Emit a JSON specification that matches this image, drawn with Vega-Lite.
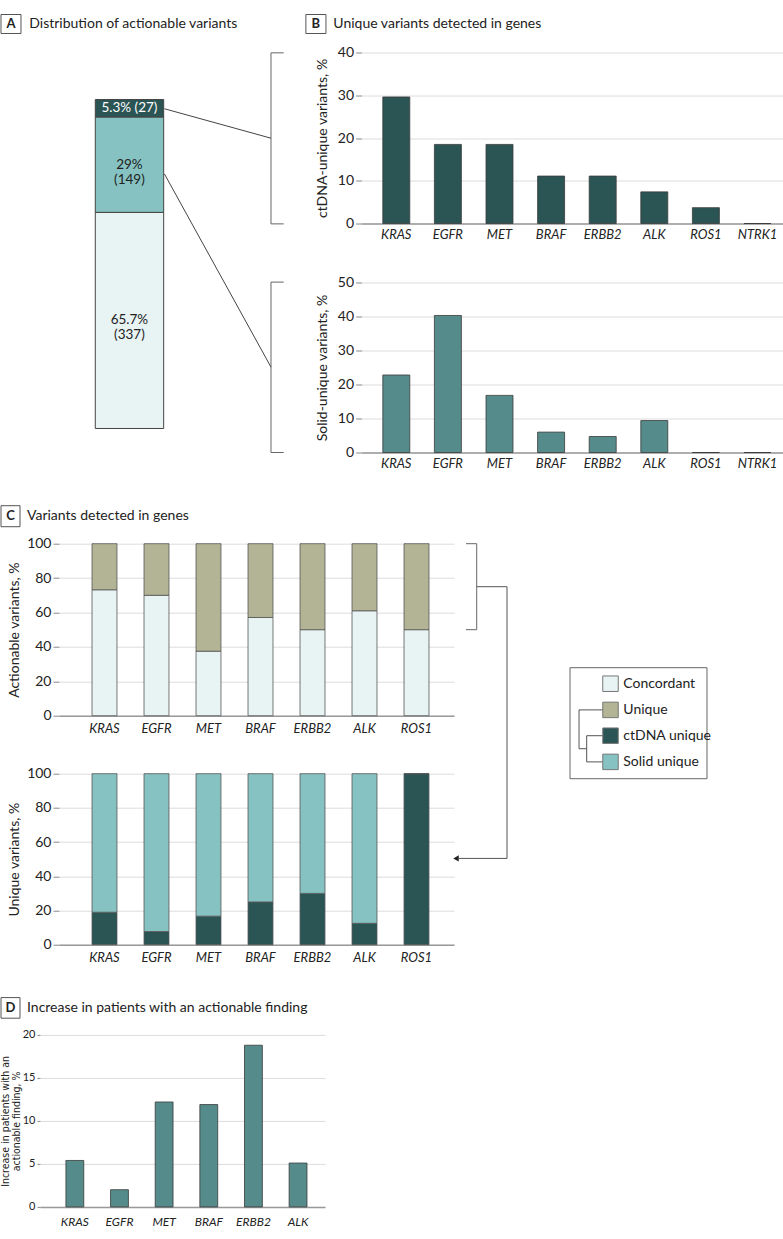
{
  "$schema": "https://vega.github.io/schema/vega-lite/v6.json",
  "padding": {"left": 0, "top": 13.5, "right": 0, "bottom": 0},
  "background": "white",
  "config": {
    "view": {"stroke": null},
    "font": "Lato, sans-serif",
    "text": {"font": "Lato, sans-serif", "color": "#222"},
    "axis": {"labelFont": "Lato, sans-serif", "titleFont": "Lato, sans-serif", "labelColor": "#222", "titleColor": "#222", "titleFontWeight": "normal", "gridColor": "#dcdcdc", "gridWidth": 1, "tickColor": "#888", "domainColor": "#999"},
    "axisY": {"domain": false, "tickSize": 6, "labelFontSize": 14, "titleFontSize": 14, "titlePadding": 8, "grid": true},
    "axisX": {"ticks": false, "grid": false, "labelAngle": 0, "labelFontStyle": "italic", "labelFontSize": 13, "labelPadding": 6, "domainWidth": 1.5}
  },
  "datasets": {
    "overall": [
      {"segment": "Concordant", "pct": 65.7, "n": 337, "lo": 0, "hi": 65.7, "mid": 32.85, "label": "65.7%\n(337)"},
      {"segment": "Solid unique", "pct": 29.0, "n": 149, "lo": 65.7, "hi": 94.7, "mid": 80.2, "label": "29%\n(149)"},
      {"segment": "ctDNA unique", "pct": 5.3, "n": 27, "lo": 94.7, "hi": 100, "mid": 97.35, "label": "5.3% (27)"}
    ],
    "unique": [
      {"gene": "KRAS", "ctdna": 29.6, "solid": 22.8},
      {"gene": "EGFR", "ctdna": 18.5, "solid": 40.3},
      {"gene": "MET", "ctdna": 18.5, "solid": 16.8},
      {"gene": "BRAF", "ctdna": 11.1, "solid": 6.0},
      {"gene": "ERBB2", "ctdna": 11.1, "solid": 4.7},
      {"gene": "ALK", "ctdna": 7.4, "solid": 9.4},
      {"gene": "ROS1", "ctdna": 3.7, "solid": 0},
      {"gene": "NTRK1", "ctdna": 0, "solid": 0}
    ],
    "actionable": [
      {"gene": "KRAS", "category": "Concordant", "pct": 73.2},
      {"gene": "KRAS", "category": "Unique", "pct": 26.8},
      {"gene": "EGFR", "category": "Concordant", "pct": 70.0},
      {"gene": "EGFR", "category": "Unique", "pct": 30.0},
      {"gene": "MET", "category": "Concordant", "pct": 37.5},
      {"gene": "MET", "category": "Unique", "pct": 62.5},
      {"gene": "BRAF", "category": "Concordant", "pct": 57.1},
      {"gene": "BRAF", "category": "Unique", "pct": 42.9},
      {"gene": "ERBB2", "category": "Concordant", "pct": 50.0},
      {"gene": "ERBB2", "category": "Unique", "pct": 50.0},
      {"gene": "ALK", "category": "Concordant", "pct": 61.0},
      {"gene": "ALK", "category": "Unique", "pct": 39.0},
      {"gene": "ROS1", "category": "Concordant", "pct": 50.0},
      {"gene": "ROS1", "category": "Unique", "pct": 50.0}
    ],
    "uniqueShare": [
      {"gene": "KRAS", "category": "ctDNA unique", "pct": 19.0},
      {"gene": "KRAS", "category": "Solid unique", "pct": 81.0},
      {"gene": "EGFR", "category": "ctDNA unique", "pct": 7.7},
      {"gene": "EGFR", "category": "Solid unique", "pct": 92.3},
      {"gene": "MET", "category": "ctDNA unique", "pct": 16.7},
      {"gene": "MET", "category": "Solid unique", "pct": 83.3},
      {"gene": "BRAF", "category": "ctDNA unique", "pct": 25.0},
      {"gene": "BRAF", "category": "Solid unique", "pct": 75.0},
      {"gene": "ERBB2", "category": "ctDNA unique", "pct": 30.0},
      {"gene": "ERBB2", "category": "Solid unique", "pct": 70.0},
      {"gene": "ALK", "category": "ctDNA unique", "pct": 12.5},
      {"gene": "ALK", "category": "Solid unique", "pct": 87.5},
      {"gene": "ROS1", "category": "ctDNA unique", "pct": 100.0},
      {"gene": "ROS1", "category": "Solid unique", "pct": 0}
    ],
    "increase": [
      {"gene": "KRAS", "pct": 5.4},
      {"gene": "EGFR", "pct": 2.0},
      {"gene": "MET", "pct": 12.2},
      {"gene": "BRAF", "pct": 11.9},
      {"gene": "ERBB2", "pct": 18.8},
      {"gene": "ALK", "pct": 5.1}
    ]
  },
  "spacing": 34.2,
  "vconcat": [
    {
      "spacing": 19.6,
      "hconcat": [
        {
          "width": 243,
          "height": 400,
          "data": {"values": [{}]},
          "layer": [
            {"data": {"name": "overall"}, "mark": {"type": "rect", "stroke": "#444", "strokeWidth": 1},
             "encoding": {
               "x": {"datum": 22.75, "type": "quantitative", "scale": {"domain": [0, 100], "nice": false, "zero": false}, "axis": null},
               "x2": {"datum": 50.9},
               "y": {"field": "lo", "type": "quantitative", "scale": {"domain": [-7.3, 114.3], "nice": false, "zero": false}, "axis": null},
               "y2": {"field": "hi"},
               "color": {"field": "segment", "type": "nominal", "scale": {"domain": ["Concordant", "Unique", "ctDNA unique", "Solid unique"], "range": ["#e8f3f4", "#b3b395", "#2b5454", "#85c2c1"]}, "legend": null}
             }},
            {"data": {"name": "overall"}, "mark": {"type": "text", "fontSize": 13.5, "lineBreak": "\n", "lineHeight": 15, "baseline": "middle", "align": "center"},
             "encoding": {
               "x": {"datum": 36.8, "type": "quantitative"},
               "y": {"field": "mid", "type": "quantitative"},
               "text": {"field": "label"},
               "color": {"condition": {"test": "datum.segment === 'ctDNA unique'", "value": "white"}, "value": "#222"}
             }},
            {"mark": {"type": "rule", "color": "#666", "strokeWidth": 1}, "encoding": {"x": {"datum": 95.06, "type": "quantitative"}, "y": {"datum": 62.2, "type": "quantitative"}, "y2": {"datum": 114.2}}},
            {"mark": {"type": "rule", "color": "#666", "strokeWidth": 1}, "encoding": {"x": {"datum": 95.06, "type": "quantitative"}, "x2": {"datum": 100.3}, "y": {"datum": 114.2, "type": "quantitative"}}},
            {"mark": {"type": "rule", "color": "#666", "strokeWidth": 1}, "encoding": {"x": {"datum": 95.06, "type": "quantitative"}, "x2": {"datum": 100.3}, "y": {"datum": 62.2, "type": "quantitative"}}},
            {"mark": {"type": "rule", "color": "#666", "strokeWidth": 1}, "encoding": {"x": {"datum": 95.06, "type": "quantitative"}, "y": {"datum": -7.3, "type": "quantitative"}, "y2": {"datum": 44.5}}},
            {"mark": {"type": "rule", "color": "#666", "strokeWidth": 1}, "encoding": {"x": {"datum": 95.06, "type": "quantitative"}, "x2": {"datum": 100.3}, "y": {"datum": 44.5, "type": "quantitative"}}},
            {"mark": {"type": "rule", "color": "#666", "strokeWidth": 1}, "encoding": {"x": {"datum": 95.06, "type": "quantitative"}, "x2": {"datum": 100.3}, "y": {"datum": -7.3, "type": "quantitative"}}},
            {"mark": {"type": "rule", "color": "#444", "strokeWidth": 1}, "encoding": {"x": {"datum": 51.2, "type": "quantitative"}, "x2": {"datum": 95.06}, "y": {"datum": 97.2, "type": "quantitative"}, "y2": {"datum": 88.25}}},
            {"mark": {"type": "rule", "color": "#444", "strokeWidth": 1}, "encoding": {"x": {"datum": 51.2, "type": "quantitative"}, "x2": {"datum": 95.06}, "y": {"datum": 77.4, "type": "quantitative"}, "y2": {"datum": 18.65}}},
            {"mark": {"type": "rect", "fill": "white", "stroke": "#555", "strokeWidth": 1}, "encoding": {"x": {"datum": -16.05, "type": "quantitative"}, "x2": {"datum": -7.82}, "y": {"datum": 125.85, "type": "quantitative"}, "y2": {"datum": 120.08}}},
            {"mark": {"type": "text", "fontSize": 13, "fontWeight": "bold", "align": "center", "baseline": "middle"}, "encoding": {"x": {"datum": -11.93, "type": "quantitative"}, "y": {"datum": 122.96, "type": "quantitative"}, "text": {"value": "A"}}},
            {"mark": {"type": "text", "fontSize": 14, "align": "left", "baseline": "middle"}, "encoding": {"x": {"datum": -4.4, "type": "quantitative"}, "y": {"datum": 122.96, "type": "quantitative"}, "text": {"value": "Distribution of actionable variants"}}}
          ]
        },
        {
          "bounds": "flush",
          "spacing": 59,
          "vconcat": [
            {
              "width": 424,
              "height": 171,
              "resolve": {"scale": {"x": "independent", "y": "independent"}},
              "layer": [
                {
                  "data": {"name": "unique"},
                  "mark": {"type": "bar", "fill": "#2b5454", "stroke": "#3a3a3a", "strokeWidth": 0.8},
                  "encoding": {
                    "x": {"field": "gene", "type": "nominal", "sort": null, "scale": {"paddingInner": 0.477, "paddingOuter": 0.347, "align": 0.592}, "axis": {"title": null, "labelPadding": 5}},
                    "y": {"field": "ctdna", "type": "quantitative", "scale": {"domain": [0, 40]}, "axis": {"title": "ctDNA-unique variants, %", "values": [0, 10, 20, 30, 40]}}
                  }
                },
                {
                  "data": {"values": [{}]},
                  "layer": [
                    {"mark": {"type": "rect", "fill": "white", "stroke": "#555", "strokeWidth": 1}, "encoding": {"x": {"datum": -13.14, "type": "quantitative", "scale": {"domain": [0, 100], "nice": false, "zero": false}, "axis": null}, "x2": {"datum": -8.4}, "y": {"datum": 122.22, "type": "quantitative", "scale": {"domain": [0, 100], "nice": false, "zero": false}, "axis": null}, "y2": {"datum": 111.11}}},
                    {"mark": {"type": "text", "fontSize": 13, "fontWeight": "bold", "align": "center", "baseline": "middle"}, "encoding": {"x": {"datum": -10.78, "type": "quantitative"}, "y": {"datum": 116.67, "type": "quantitative"}, "text": {"value": "B"}}},
                    {"mark": {"type": "text", "fontSize": 14, "align": "left", "baseline": "middle"}, "encoding": {"x": {"datum": -6.67, "type": "quantitative"}, "y": {"datum": 116.67, "type": "quantitative"}, "text": {"value": "Unique variants detected in genes"}}}
                  ]
                }
              ]
            },
            {
              "width": 424,
              "height": 170,
              "data": {"name": "unique"},
              "mark": {"type": "bar", "fill": "#558c8b", "stroke": "#3a3a3a", "strokeWidth": 0.8},
              "encoding": {
                "x": {"field": "gene", "type": "nominal", "sort": null, "scale": {"paddingInner": 0.477, "paddingOuter": 0.347, "align": 0.592}, "axis": {"title": null, "labelPadding": 5}},
                "y": {"field": "solid", "type": "quantitative", "scale": {"domain": [0, 50]}, "axis": {"title": "Solid-unique variants, %", "values": [0, 10, 20, 30, 40, 50]}}
              }
            }
          ]
        }
      ]
    },
    {
      "spacing": 32.2,
      "vconcat": [
        {
          "bounds": "flush",
          "spacing": 12,
          "hconcat": [
            {"width": 7, "height": 10, "data": {"values": [{}]}, "mark": {"type": "point", "opacity": 0}, "encoding": {}},
            {
              "bounds": "flush",
              "spacing": 58,
              "vconcat": [
                {
                  "width": 395,
                  "height": 172,
                  "resolve": {"scale": {"x": "independent", "y": "independent"}},
                  "layer": [
                    {
                      "data": {"name": "actionable"},
                      "mark": {"type": "bar", "stroke": "#555", "strokeWidth": 0.8},
                      "encoding": {
                        "x": {"field": "gene", "type": "nominal", "sort": null, "scale": {"paddingInner": 0.52, "paddingOuter": 0.558, "align": 0.569}, "axis": {"title": null, "labelPadding": 7}},
                        "y": {"field": "pct", "type": "quantitative", "stack": "zero", "scale": {"domain": [0, 100]}, "axis": {"title": "Actionable variants, %", "titlePadding": 5, "values": [0, 20, 40, 60, 80, 100]}},
                        "color": {"field": "category", "type": "nominal", "scale": {"domain": ["Concordant", "Unique", "ctDNA unique", "Solid unique"], "range": ["#e8f3f4", "#b3b395", "#2b5454", "#85c2c1"]}, "legend": null},
                        "order": {"field": "category", "sort": "ascending"}
                      }
                    },
                    {
                      "data": {"values": [{}]},
                      "layer": [
                        {"mark": {"type": "rect", "fill": "white", "stroke": "#555", "strokeWidth": 1}, "encoding": {"x": {"datum": -14.68, "type": "quantitative", "scale": {"domain": [0, 100], "nice": false, "zero": false}, "axis": null}, "x2": {"datum": -9.87}, "y": {"datum": 122.09, "type": "quantitative", "scale": {"domain": [0, 100], "nice": false, "zero": false}, "axis": null}, "y2": {"datum": 109.88}}},
                        {"mark": {"type": "text", "fontSize": 13, "fontWeight": "bold", "align": "center", "baseline": "middle"}, "encoding": {"x": {"datum": -12.28, "type": "quantitative"}, "y": {"datum": 115.99, "type": "quantitative"}, "text": {"value": "C"}}},
                        {"mark": {"type": "text", "fontSize": 14, "align": "left", "baseline": "middle"}, "encoding": {"x": {"datum": -8.1, "type": "quantitative"}, "y": {"datum": 115.99, "type": "quantitative"}, "text": {"value": "Variants detected in genes"}}},
                        {"mark": {"type": "rule", "color": "#666", "strokeWidth": 1}, "encoding": {"x": {"datum": 105.75, "type": "quantitative"}, "y": {"datum": 100, "type": "quantitative"}, "y2": {"datum": 50}}},
                        {"mark": {"type": "rule", "color": "#666", "strokeWidth": 1}, "encoding": {"x": {"datum": 103.04, "type": "quantitative"}, "x2": {"datum": 105.75}, "y": {"datum": 100, "type": "quantitative"}}},
                        {"mark": {"type": "rule", "color": "#666", "strokeWidth": 1}, "encoding": {"x": {"datum": 103.04, "type": "quantitative"}, "x2": {"datum": 105.75}, "y": {"datum": 50, "type": "quantitative"}}},
                        {"mark": {"type": "rule", "color": "#555", "strokeWidth": 1}, "encoding": {"x": {"datum": 105.75, "type": "quantitative"}, "x2": {"datum": 113.42}, "y": {"datum": 75, "type": "quantitative"}}},
                        {"mark": {"type": "rule", "color": "#555", "strokeWidth": 1}, "encoding": {"x": {"datum": 113.42, "type": "quantitative"}, "y": {"datum": 75, "type": "quantitative"}, "y2": {"datum": -82.97}}},
                        {"mark": {"type": "rule", "color": "#555", "strokeWidth": 1}, "encoding": {"x": {"datum": 113.42, "type": "quantitative"}, "x2": {"datum": 101.27}, "y": {"datum": -82.97, "type": "quantitative"}}},
                        {"mark": {"type": "point", "shape": "triangle-left", "filled": true, "color": "#222", "size": 40, "opacity": 1}, "encoding": {"x": {"datum": 100.51, "type": "quantitative"}, "y": {"datum": -82.97, "type": "quantitative"}}},
                        {"mark": {"type": "rect", "fill": "white", "stroke": "#666", "strokeWidth": 1}, "encoding": {"x": {"datum": 129.37, "type": "quantitative"}, "x2": {"datum": 164.05}, "y": {"datum": 27.91, "type": "quantitative"}, "y2": {"datum": -36.63}}},
                        {"mark": {"type": "rule", "color": "#555", "strokeWidth": 1}, "encoding": {"x": {"datum": 131.65, "type": "quantitative"}, "x2": {"datum": 137.65}, "y": {"datum": 3.37, "type": "quantitative"}}},
                        {"mark": {"type": "rule", "color": "#555", "strokeWidth": 1}, "encoding": {"x": {"datum": 131.65, "type": "quantitative"}, "y": {"datum": 3.37, "type": "quantitative"}, "y2": {"datum": -19.19}}},
                        {"mark": {"type": "rule", "color": "#555", "strokeWidth": 1}, "encoding": {"x": {"datum": 131.65, "type": "quantitative"}, "x2": {"datum": 133.59}, "y": {"datum": -19.19, "type": "quantitative"}}},
                        {"mark": {"type": "rule", "color": "#555", "strokeWidth": 1}, "encoding": {"x": {"datum": 133.59, "type": "quantitative"}, "y": {"datum": -11.63, "type": "quantitative"}, "y2": {"datum": -26.86}}},
                        {"mark": {"type": "rule", "color": "#555", "strokeWidth": 1}, "encoding": {"x": {"datum": 133.59, "type": "quantitative"}, "x2": {"datum": 137.65}, "y": {"datum": -11.63, "type": "quantitative"}}},
                        {"mark": {"type": "rule", "color": "#555", "strokeWidth": 1}, "encoding": {"x": {"datum": 133.59, "type": "quantitative"}, "x2": {"datum": 137.65}, "y": {"datum": -26.86, "type": "quantitative"}}},
                        {"mark": {"type": "point", "shape": "square", "filled": true, "fill": "#e8f3f4", "stroke": "#777", "strokeWidth": 1, "size": 240, "opacity": 1}, "encoding": {"x": {"datum": 139.62, "type": "quantitative"}, "y": {"datum": 18.6, "type": "quantitative"}}},
                        {"mark": {"type": "point", "shape": "square", "filled": true, "fill": "#b3b395", "stroke": "#777", "strokeWidth": 1, "size": 240, "opacity": 1}, "encoding": {"x": {"datum": 139.62, "type": "quantitative"}, "y": {"datum": 3.37, "type": "quantitative"}}},
                        {"mark": {"type": "point", "shape": "square", "filled": true, "fill": "#2b5454", "stroke": "#777", "strokeWidth": 1, "size": 240, "opacity": 1}, "encoding": {"x": {"datum": 139.62, "type": "quantitative"}, "y": {"datum": -11.63, "type": "quantitative"}}},
                        {"mark": {"type": "point", "shape": "square", "filled": true, "fill": "#85c2c1", "stroke": "#777", "strokeWidth": 1, "size": 240, "opacity": 1}, "encoding": {"x": {"datum": 139.62, "type": "quantitative"}, "y": {"datum": -26.86, "type": "quantitative"}}},
                        {"mark": {"type": "text", "fontSize": 14, "align": "left", "baseline": "middle"}, "encoding": {"x": {"datum": 142.86, "type": "quantitative"}, "y": {"datum": 18.6, "type": "quantitative"}, "text": {"value": "Concordant"}}},
                        {"mark": {"type": "text", "fontSize": 14, "align": "left", "baseline": "middle"}, "encoding": {"x": {"datum": 142.86, "type": "quantitative"}, "y": {"datum": 3.37, "type": "quantitative"}, "text": {"value": "Unique"}}},
                        {"mark": {"type": "text", "fontSize": 14, "align": "left", "baseline": "middle"}, "encoding": {"x": {"datum": 142.86, "type": "quantitative"}, "y": {"datum": -11.63, "type": "quantitative"}, "text": {"value": "ctDNA unique"}}},
                        {"mark": {"type": "text", "fontSize": 14, "align": "left", "baseline": "middle"}, "encoding": {"x": {"datum": 142.86, "type": "quantitative"}, "y": {"datum": -26.86, "type": "quantitative"}, "text": {"value": "Solid unique"}}}
                      ]
                    }
                  ]
                },
                {
                  "width": 395,
                  "height": 171,
                  "data": {"name": "uniqueShare"},
                  "mark": {"type": "bar", "stroke": "#555", "strokeWidth": 0.8},
                  "encoding": {
                    "x": {"field": "gene", "type": "nominal", "sort": null, "scale": {"paddingInner": 0.52, "paddingOuter": 0.558, "align": 0.569}, "axis": {"title": null, "labelPadding": 7}},
                    "y": {"field": "pct", "type": "quantitative", "stack": "zero", "scale": {"domain": [0, 100]}, "axis": {"title": "Unique variants, %", "titlePadding": 5, "values": [0, 20, 40, 60, 80, 100]}},
                    "color": {"field": "category", "type": "nominal", "scale": {"domain": ["Concordant", "Unique", "ctDNA unique", "Solid unique"], "range": ["#e8f3f4", "#b3b395", "#2b5454", "#85c2c1"]}, "legend": null},
                    "order": {"field": "category", "sort": "descending"}
                  }
                }
              ]
            }
          ]
        },
        {
          "width": 285,
          "height": 172,
          "resolve": {"scale": {"x": "independent", "y": "independent"}},
          "layer": [
            {
              "data": {"name": "increase"},
              "mark": {"type": "bar", "fill": "#558c8b", "stroke": "#3a3a3a", "strokeWidth": 0.8},
              "encoding": {
                "x": {"field": "gene", "type": "nominal", "sort": null, "scale": {"paddingInner": 0.6, "paddingOuter": 0.492, "align": 0.59}, "axis": {"title": null, "labelFontSize": 12, "labelPadding": 10}},
                "y": {"field": "pct", "type": "quantitative", "scale": {"domain": [0, 20]}, "axis": {"title": ["Increase in patients with an", "actionable finding, %"], "titleFont": "DejaVu Sans Condensed", "titleFontSize": 10.5, "titleLineHeight": 10.5, "titlePadding": 1, "tickSize": 3, "labelFontSize": 11, "values": [0, 5, 10, 15, 20]}}
              }
            },
            {
              "data": {"values": [{}]},
              "layer": [
                {"mark": {"type": "rect", "fill": "white", "stroke": "#555", "strokeWidth": 1}, "encoding": {"x": {"datum": -13.68, "type": "quantitative", "scale": {"domain": [0, 100], "nice": false, "zero": false}, "axis": null}, "x2": {"datum": -7.02}, "y": {"datum": 121.69, "type": "quantitative", "scale": {"domain": [0, 100], "nice": false, "zero": false}, "axis": null}, "y2": {"datum": 109.71}}},
                {"mark": {"type": "text", "fontSize": 13, "fontWeight": "bold", "align": "center", "baseline": "middle"}, "encoding": {"x": {"datum": -10.35, "type": "quantitative"}, "y": {"datum": 115.7, "type": "quantitative"}, "text": {"value": "D"}}},
                {"mark": {"type": "text", "fontSize": 14, "align": "left", "baseline": "middle"}, "encoding": {"x": {"datum": -4.56, "type": "quantitative"}, "y": {"datum": 115.7, "type": "quantitative"}, "text": {"value": "Increase in patients with an actionable finding"}}}
              ]
            }
          ]
        }
      ]
    }
  ]
}
